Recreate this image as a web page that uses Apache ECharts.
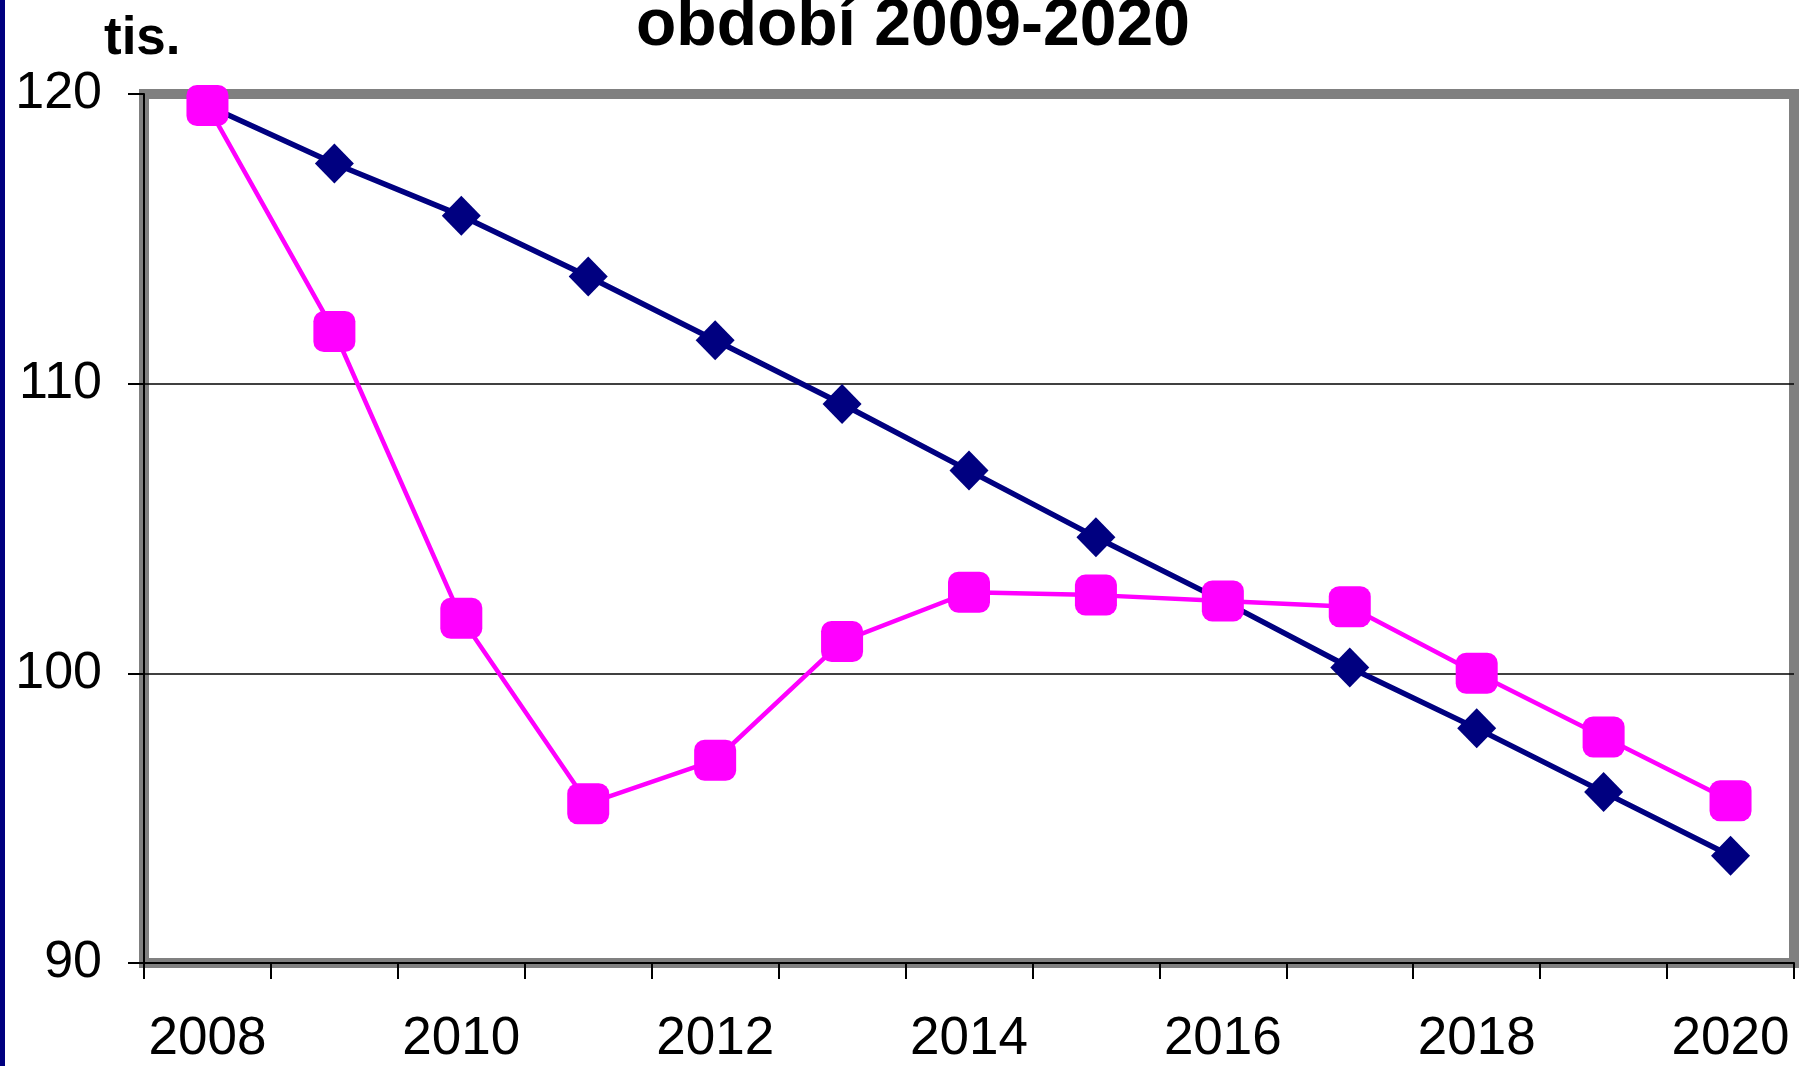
<!DOCTYPE html>
<html>
<head>
<meta charset="utf-8">
<script src="https://cdn.jsdelivr.net/npm/echarts@6/dist/echarts.min.js"></script>
<style>
    html, body { margin: 0; padding: 0; background: #fff; }
    #chart { width: 1802px; height: 1066px; }
</style>
</head>
<body>
<div id="chart"></div>
<script>
    // roky na ose x
    const years = ['2008', '2009', '2010', '2011', '2012', '2013', '2014',
        '2015', '2016', '2017', '2018', '2019', '2020'];
    // tmavě modrá řada (kosočtverce)
    const navySeries = [119.6, 117.6, 115.8, 113.7, 111.5, 109.3, 107.0,
        104.7, 102.5, 100.2, 98.1, 95.9, 93.7];
    // purpurová řada (čtverce)
    const pinkSeries = [119.6, 111.8, 101.9, 95.5, 97.0, 101.1, 102.8,
        102.7, 102.5, 102.3, 100.0, 97.8, 95.6];
    const yTicks = { min: 90, max: 120, step: 10 };

    const font = 'Liberation Sans, Arial, sans-serif';
    const chart = echarts.init(document.getElementById('chart'));
    chart.setOption({
        animation: false,
        backgroundColor: '#fff',
        title: [
            {
                text: 'období 2009-2020',
                left: 636, top: -6, padding: 0,
                textStyle: { fontFamily: font, fontSize: 66, fontWeight: 'bold', color: '#000' }
            },
            {
                text: 'tis.',
                left: 104, top: 13, padding: 0,
                textStyle: { fontFamily: font, fontSize: 53, fontWeight: 'bold', color: '#000' }
            }
        ],
        graphic: [{
            type: 'rect',
            shape: { x: 0, y: 0, width: 5, height: 1066 },
            style: { fill: '#000080' }
        }],
        grid: {
            left: 144, right: 8, top: 94, bottom: 95,
            show: true, borderColor: '#808080', borderWidth: 10
        },
        xAxis: {
            type: 'category',
            data: years,
            boundaryGap: true,
            axisLine: { lineStyle: { color: '#000', width: 2 } },
            axisTick: { show: true, interval: 0, length: 16, lineStyle: { color: '#000', width: 2 } },
            axisLabel: { interval: 1, margin: 50, fontFamily: font, fontSize: 53, color: '#000' },
            splitLine: { show: false }
        },
        yAxis: {
            type: 'value',
            min: yTicks.min, max: yTicks.max, interval: yTicks.step,
            axisLine: { show: true, lineStyle: { color: '#000', width: 2 } },
            axisTick: { show: true, length: 16, lineStyle: { color: '#000', width: 2 } },
            axisLabel: { margin: 42, fontFamily: font, fontSize: 52, color: '#000' },
            splitLine: { show: true, showMaxLine: false, lineStyle: { color: '#000', width: 1.5 } }
        },
        series: [
            {
                type: 'line',
                data: navySeries,
                symbol: 'diamond',
                symbolSize: [39, 40],
                lineStyle: { color: '#000080', width: 5.5 },
                itemStyle: { color: '#000080' }
            },
            {
                type: 'line',
                data: pinkSeries,
                symbol: 'roundRect',
                symbolSize: [42, 41],
                lineStyle: { color: '#ff00ff', width: 4.5 },
                itemStyle: { color: '#ff00ff' }
            }
        ]
    });
</script>
</body>
</html>
